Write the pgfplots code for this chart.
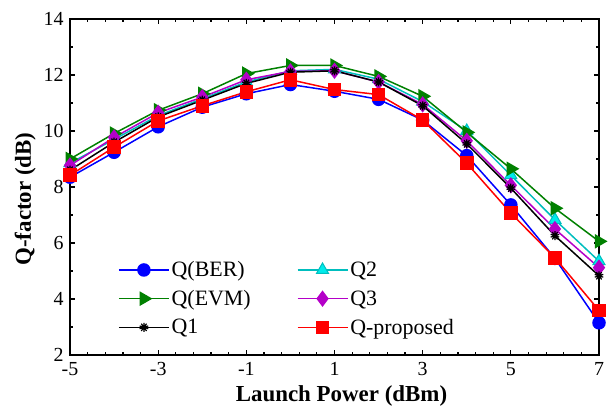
\documentclass[border=0pt]{standalone}
\usepackage{fontspec}
\setmainfont{Liberation Serif}
\usepackage{pgfplots}
\pgfplotsset{compat=1.18}
\usetikzlibrary{plotmarks}
\definecolor{cBER}{RGB}{0,0,255}
\definecolor{cEVM}{RGB}{0,128,0}
\definecolor{cQtwo}{RGB}{0,190,190}
\definecolor{cQtwofill}{RGB}{0,235,235}
\definecolor{cQthree}{RGB}{180,0,200}
\definecolor{cQp}{RGB}{255,0,0}
\begin{document}
\begin{tikzpicture}
\begin{axis}[
  scale only axis, width=529bp, height=336bp,
  xmin=-5, xmax=7, ymin=2, ymax=14,
  xtick={-5,-3,-1,1,3,5,7}, xticklabels={-5,-3,-1,1,3,5,7},
  ytick={2,4,6,8,10,12,14}, yticklabels={2,4,6,8,10,12,14},
  minor x tick num=4, minor y tick num=1,
  tick align=inside, major tick length=5bp, minor tick length=3bp,
  axis line style={line width=1.6bp},
  every tick/.style={black, line width=1.2bp},
  tick label style={font=\fontsize{20}{22}\selectfont},
  xticklabel style={yshift=-4bp},
  yticklabel style={xshift=-3bp},
  label style={font=\fontsize{23}{25}\selectfont\bfseries},
  xlabel={Launch Power (dBm)},
  ylabel={Q-factor (dB)},
  xlabel style={yshift=-3bp, xshift=7bp},
  ylabel style={yshift=1bp, xshift=-12bp},
  legend columns=2,
  legend cell align=left,
  legend style={draw=none, fill=none, at={(0.085,0.045)}, anchor=south west,
    font=\fontsize{22}{24}\selectfont, row sep=8bp,
    /tikz/every even column/.append style={column sep=44bp}},
  legend image code/.code={\draw[mark repeat=2,mark phase=2,#1] plot coordinates {(0bp,0bp) (25bp,0bp) (50bp,0bp)};},
  every axis plot/.append style={line width=1.5bp},
]
\addplot[color=cBER, mark=*, mark size=6bp, mark options={fill=cBER}] coordinates {
(-5,8.35) (-4,9.24) (-3,10.15) (-2,10.85) (-1,11.33) (0,11.66) (1,11.42) (2,11.13) (3,10.39) (4,9.12) (5,7.36) (6,5.45) (7,3.15)};
\addlegendentry{Q(BER)}
\addplot[color=cQtwo, mark=triangle*, mark size=7bp, mark options={fill=cQtwofill, draw=cQtwo, line width=1bp}] coordinates {
(-5,8.85) (-4,9.7) (-3,10.55) (-2,11.15) (-1,11.75) (0,12.15) (1,12.2) (2,11.85) (3,11.05) (4,10.0) (5,8.42) (6,6.83) (7,5.35)};
\addlegendentry{Q2}
\addplot[color=cEVM, mark=triangle*, mark size=7bp, mark options={rotate=-90, fill=cEVM}] coordinates {
(-5,9.0) (-4,9.91) (-3,10.74) (-2,11.33) (-1,12.05) (0,12.34) (1,12.34) (2,11.95) (3,11.24) (4,9.95) (5,8.65) (6,7.24) (7,6.06)};
\addlegendentry{Q(EVM)}
\addplot[color=cQthree, mark=diamond*, mark size=7bp, mark options={fill=cQthree}] coordinates {
(-5,8.77) (-4,9.77) (-3,10.65) (-2,11.21) (-1,11.83) (0,12.13) (1,12.15) (2,11.75) (3,10.95) (4,9.65) (5,8.06) (6,6.5) (7,5.12)};
\addlegendentry{Q3}
\addplot[color=black, mark=10-pointed star, mark size=4.5bp, mark options={fill=black, line width=1.2bp}] coordinates {
(-5,8.6) (-4,9.6) (-3,10.5) (-2,11.1) (-1,11.7) (0,12.1) (1,12.15) (2,11.75) (3,10.9) (4,9.54) (5,7.96) (6,6.26) (7,4.83)};
\addlegendentry{Q1}
\addplot[color=cQp, mark=square*, mark size=6bp, mark options={fill=cQp}] coordinates {
(-5,8.42) (-4,9.42) (-3,10.36) (-2,10.9) (-1,11.4) (0,11.83) (1,11.48) (2,11.3) (3,10.39) (4,8.85) (5,7.07) (6,5.47) (7,3.59)};
\addlegendentry{Q-proposed}
\end{axis}
\path ([xshift=-70bp,yshift=-58bp]current axis.south west) rectangle ([xshift=12bp,yshift=19bp]current axis.north east);
\end{tikzpicture}
\end{document}
